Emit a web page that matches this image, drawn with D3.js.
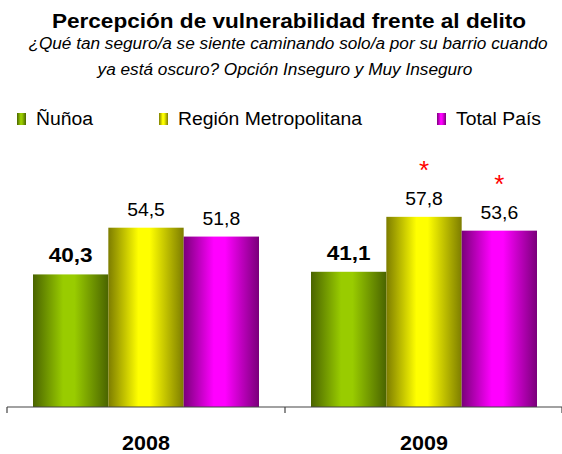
<!DOCTYPE html>
<html>
<head>
<meta charset="utf-8">
<script src="https://cdn.jsdelivr.net/npm/d3@7"></script>
<style>
  body { margin: 0; background: #fff; }
  text { font-family: Arial, "Liberation Sans", sans-serif; }
</style>
</head>
<body>
<div id="chart"></div>
<script>
// chart data
const years = ["2008", "2009"];
const series = ["Ñuñoa", "Región Metropolitana", "Total País"];
const nunoa = [40.3, 41.1];
const region = [54.5, 57.8];
const pais = [51.8, 53.6];
// significance marks (asterisks) per series / year
const starRegion = [false, true];
const starPais = [false, true];

const colors = [
    {id: "gNunoa", dark: "#4a6400", light: "#99cc00"},
    {id: "gRegion", dark: "#7d7d00", light: "#ffff00"},
    {id: "gPais", dark: "#7a007a", light: "#ff00ff"}
];

const width = 562, height = 454;
const baseY = 407;
// the original text is drawn a little wider than normal
const stretch = 1.075;

const svg = d3.select("#chart")
  .append("svg")
    .attr("width", width)
    .attr("height", height);

// gradients giving the bars their cylinder look
const defs = svg.append("defs");
colors.forEach(c => {
    const g = defs.append("linearGradient")
        .attr("id", c.id)
        .attr("x1", "0%").attr("x2", "100%")
        .attr("y1", "0%").attr("y2", "0%");
    g.append("stop").attr("offset", "0%").attr("stop-color", c.dark);
    g.append("stop").attr("offset", "40%").attr("stop-color", c.light);
    g.append("stop").attr("offset", "55%").attr("stop-color", c.light);
    g.append("stop").attr("offset", "100%").attr("stop-color", c.dark);
});

// title
svg.append("text")
    .attr("class", "wide")
    .attr("x", 289).attr("y", 28)
    .attr("text-anchor", "middle")
    .style("font-size", "21px").style("font-weight", "bold")
    .text("Percepción de vulnerabilidad frente al delito");

svg.append("text")
    .attr("class", "wide")
    .attr("x", 288).attr("y", 49)
    .attr("text-anchor", "middle")
    .style("font-size", "16px").style("font-style", "italic")
    .text("¿Qué tan seguro/a se siente caminando solo/a por su barrio cuando");

svg.append("text")
    .attr("class", "wide")
    .attr("x", 285).attr("y", 75)
    .attr("text-anchor", "middle")
    .style("font-size", "16px").style("font-style", "italic")
    .text("ya está oscuro? Opción Inseguro y Muy Inseguro");

// legend
const legendX = [17, 159, 437];
const legend = svg.append("g");
series.forEach((s, i) => {
    legend.append("rect")
        .attr("x", legendX[i]).attr("y", 113)
        .attr("width", 9).attr("height", 12)
        .attr("fill", `url(#${colors[i].id})`);
    legend.append("text")
        .attr("class", "wide")
        .attr("x", legendX[i] + 19).attr("y", 125)
        .style("font-size", "18px")
        .text(s);
});

// scales
const x0 = d3.scaleBand()
    .domain(years)
    .range([7, 563]);

const x1 = d3.scaleBand()
    .domain(series)
    .range([26, 252]);

const y = d3.scaleLinear()
    .domain([0, 60])
    .range([baseY, baseY - 197.4]);

const data = years.map((yr, j) => ({
    year: yr,
    values: [
        {key: series[0], value: nunoa[j], star: false, fill: "gNunoa", bold: true},
        {key: series[1], value: region[j], star: starRegion[j], fill: "gRegion", bold: false},
        {key: series[2], value: pais[j], star: starPais[j], fill: "gPais", bold: false}
    ]
}));

const groups = svg.selectAll(".year")
    .data(data)
    .enter()
    .append("g")
    .attr("class", "year")
    .attr("transform", d => `translate(${x0(d.year)},0)`);

groups.selectAll("rect")
    .data(d => d.values)
    .enter()
    .append("rect")
        .attr("x", d => x1(d.key))
        .attr("y", d => y(d.value))
        .attr("width", x1.bandwidth())
        .attr("height", d => baseY - y(d.value))
        .attr("fill", d => `url(#${d.fill})`);

// value labels
groups.selectAll(".val")
    .data(d => d.values)
    .enter()
    .append("text")
        .attr("class", "val wide")
        .attr("x", d => x1(d.key) + x1.bandwidth() / 2)
        .attr("y", d => y(d.value) - 12)
        .attr("text-anchor", "middle")
        .style("font-size", d => d.bold ? "21px" : "18px")
        .style("font-weight", d => d.bold ? "bold" : "normal")
        .text(d => d3.format(".1f")(d.value).replace(".", ","));

// asterisks
groups.selectAll(".star")
    .data(d => d.values.filter(v => v.star))
    .enter()
    .append("text")
        .attr("class", "star")
        .attr("x", d => x1(d.key) + x1.bandwidth() / 2)
        .attr("y", d => y(d.value) - 38)
        .attr("text-anchor", "middle")
        .attr("fill", "#ff0000")
        .style("font-size", "26px")
        .text("*");

// x axis
const xAxis = svg.append("g")
    .attr("transform", `translate(0,${baseY})`);
xAxis.append("line")
    .attr("x1", 7).attr("x2", 562)
    .attr("stroke", "#444").attr("stroke-width", 1.2);
xAxis.selectAll(".tick")
    .data([...years.map(d => x0(d)), 562])
    .enter()
    .append("line")
        .attr("x1", d => d).attr("x2", d => d)
        .attr("y1", 0).attr("y2", 6)
        .attr("stroke", "#444").attr("stroke-width", 1.2);

xAxis.selectAll(".cat")
    .data(years)
    .enter()
    .append("text")
        .attr("class", "wide")
        .attr("x", d => x0(d) + x0.bandwidth() / 2)
        .attr("y", 43)
        .attr("text-anchor", "middle")
        .style("font-size", "20px").style("font-weight", "bold")
        .text(d => d);

// widen every text a bit, like the original
svg.selectAll("text.wide").each(function() {
    const len = this.getComputedTextLength();
    d3.select(this)
        .attr("textLength", len * stretch)
        .attr("lengthAdjust", "spacingAndGlyphs");
});
</script>
</body>
</html>
